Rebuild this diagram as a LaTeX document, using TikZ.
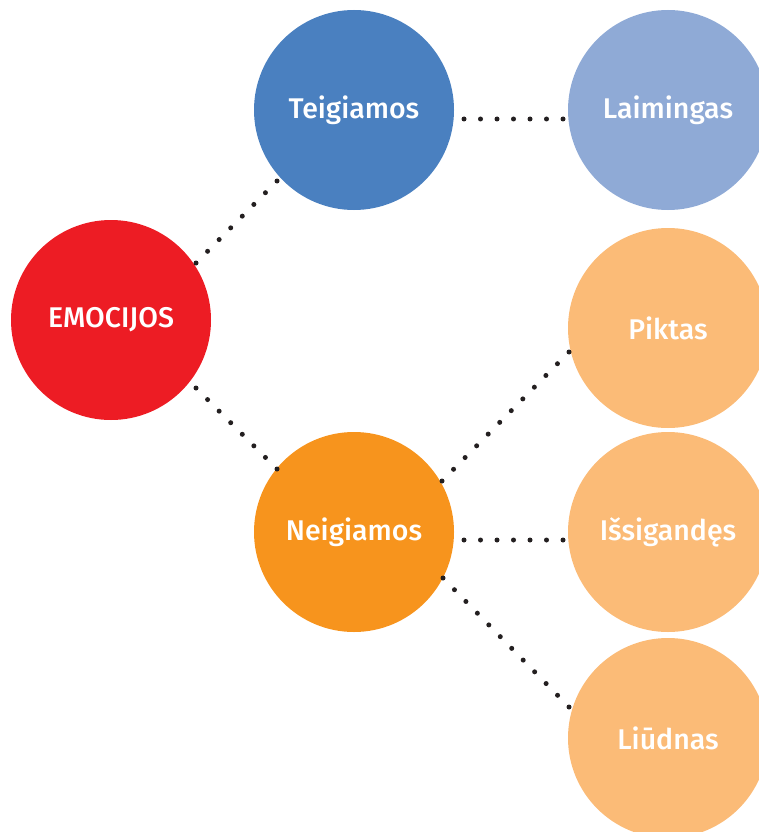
\documentclass[tikz,border=0pt]{standalone}
\usepackage{fontspec}
\setmainfont{Fira Sans Medium}
\usetikzlibrary{calc}
\definecolor{cred}{HTML}{ED1C24}
\definecolor{cblue}{HTML}{4A80C0}
\definecolor{clblue}{HTML}{8FAAD6}
\definecolor{corange}{HTML}{F7941D}
\definecolor{clorange}{HTML}{FBBB77}
\definecolor{cdot}{HTML}{231F20}
\tikzset{
  bubble/.style={circle, minimum size=200pt, inner sep=0pt, text=white,
    font=\fontsize{28.5}{32}\selectfont},
  dotfill/.style={fill=cdot}
}
\newcommand{\dotrow}[3]{%
  \foreach \i in {0,...,#3} {\fill[dotfill] ($(#1)!\i/#3!(#2)$) circle (2.5pt);}%
}
\begin{document}
\begin{tikzpicture}[x=1pt,y=-1pt]
\useasboundingbox (0,0) rectangle (758,832);
\node[bubble, fill=cred] (emo) at (111,320) {EMOCIJOS};
\node[bubble, fill=cblue] (teig) at (354,110) {Teigiamos};
\node[bubble, fill=corange] (neig) at (354,532) {Neigiamos};
\node[bubble, fill=clblue] (laim) at (668,110) {Laimingas};
\node[bubble, fill=clorange] (pik) at (668,328) {Piktas};
\node[bubble, fill=clorange] (isig) at (668,532) {Išsigandęs};
\node[bubble, fill=clorange] (liud) at (668,738) {Liūdnas};
\coordinate (a1) at ($(emo)+(85,-57)$);  \coordinate (b1) at ($(teig)+(-77,71)$);
\coordinate (a2) at ($(emo)+(85,68)$);   \coordinate (b2) at ($(neig)+(-77,-63)$);
\coordinate (a3) at ($(teig)+(110,9)$);  \coordinate (b3) at ($(laim)+(-105,9)$);
\coordinate (a4) at ($(neig)+(88,-51)$); \coordinate (b4) at ($(pik)+(-99,24)$);
\coordinate (a5) at ($(neig)+(110,8)$);  \coordinate (b5) at ($(isig)+(-105,8)$);
\coordinate (a6) at ($(neig)+(89,46)$);  \coordinate (b6) at ($(liud)+(-99,-31)$);
\dotrow{a1}{b1}{7}
\dotrow{a2}{b2}{7}
\dotrow{a3}{b3}{6}
\dotrow{a4}{b4}{11}
\dotrow{a5}{b5}{6}
\dotrow{a6}{b6}{11}
\end{tikzpicture}
\end{document}
